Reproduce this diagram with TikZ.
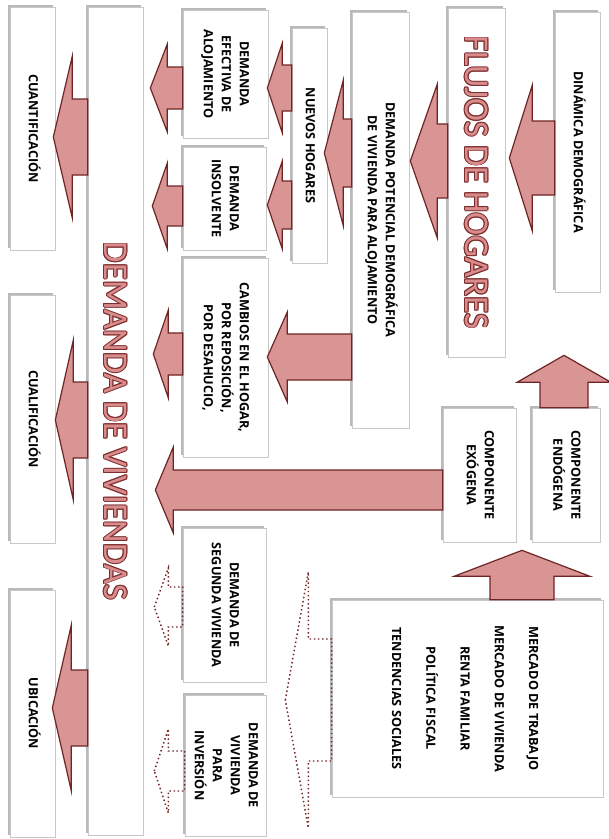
\documentclass[tikz,border=0pt]{standalone}
\usepackage{fontspec}
\setmainfont{Open Sans}
\newfontfamily\titlefont{Carlito}
\usetikzlibrary{calc,fit,shadows}
\definecolor{arrowfill}{RGB}{217,149,148}
\definecolor{arrowline}{RGB}{112,36,36}
\definecolor{titlefill}{RGB}{217,140,140}
\definecolor{titleline}{RGB}{125,45,45}
\definecolor{boxline}{RGB}{200,200,200}
\newlength{\pxu}
\setlength{\pxu}{0.75pt}
\tikzset{
  box/.style={
    draw=boxline,
    line width=0.5pt,
    fill=white,
    inner sep=0pt,
    drop shadow={shadow xshift=-1.5pt, shadow yshift=1.5pt, fill=black!50, opacity=0.55},
    font=\fontsize{9.5}{13.5}\selectfont\bfseries
  },
  listbox/.style={box, font=\fontsize{9.5}{25.7}\selectfont\bfseries},
  titlebox/.style={box, font=\fontsize{26}{30}\selectfont\titlefont},
  blockarrow/.style={draw=arrowline, fill=arrowfill, line width=0.9pt, line join=miter},
  dotarrow/.style={draw=arrowline, dotted, line width=1.1pt},
}
\newcommand{\VText}[1]{\rotatebox{-90}{\begin{tabular}{@{}c@{}}#1\end{tabular}}}
\newcommand{\OutlineCopy}[3]{\rlap{\kern#1\raisebox{#2}{\textcolor{titleline}{#3}}}}
\newcommand{\TitleText}[1]{\rotatebox{-90}{%
  \OutlineCopy{-0.7pt}{0pt}{#1}\OutlineCopy{0.7pt}{0pt}{#1}%
  \OutlineCopy{0pt}{0.7pt}{#1}\OutlineCopy{0pt}{-0.7pt}{#1}%
  \OutlineCopy{-0.5pt}{0.5pt}{#1}\OutlineCopy{0.5pt}{0.5pt}{#1}%
  \OutlineCopy{-0.5pt}{-0.5pt}{#1}\OutlineCopy{0.5pt}{-0.5pt}{#1}%
  \textcolor{titlefill}{#1}}}
% [style]{from}{to}{y}{gap}{head}{head half}{shaft half}
\newcommand{\ArrowLeft}[8][blockarrow]{%
  \draw[#1] let \p1=(#3.east), \p2=(#2.west), \p3=(0,#4),
    \n1={\x1+(#5)*\pxu}, \n2={\x1+(#5+#6)*\pxu} in
    (\n1, \y3)
    -- ({\n2}, {\y3+(#7)*\pxu})
    -- ({\n2}, {\y3+(#8)*\pxu})
    -- (\x2, {\y3+(#8)*\pxu})
    -- (\x2, {\y3-(#8)*\pxu})
    -- ({\n2}, {\y3-(#8)*\pxu})
    -- ({\n2}, {\y3-(#7)*\pxu})
    -- cycle;
}
% [style]{from}{to}{x}{gap}{head}{head half}{shaft half}
\newcommand{\ArrowUp}[8][blockarrow]{%
  \draw[#1] let \p1=(#3.south), \p2=(#2.north), \p3=(#4,0),
    \n1={\y1-(#5)*\pxu}, \n2={\y1-(#5+#6)*\pxu} in
    (\x3, \n1)
    -- ({\x3+(#7)*\pxu}, {\n2})
    -- ({\x3+(#8)*\pxu}, {\n2})
    -- ({\x3+(#8)*\pxu}, \y2)
    -- ({\x3-(#8)*\pxu}, \y2)
    -- ({\x3-(#8)*\pxu}, {\n2})
    -- ({\x3-(#7)*\pxu}, {\n2})
    -- cycle;
}
\begin{document}
\begin{tikzpicture}[x=0.75pt, y=-0.75pt]
  \useasboundingbox (0,0) rectangle (608,839);
  \node[box, fit={(10,7) (55,250)}] (cuant) {\VText{CUANTIFICACIÓN}};
  \node[box, fit={(10,295) (55,543)}] (cualif) {\VText{CUALIFICACIÓN}};
  \node[box, fit={(10,590) (55,837)}] (ubic) {\VText{UBICACIÓN}};
  \node[titlebox, fit={(88,7) (143,835)}] (demanda) {\TitleText{DEMANDA DE VIVIENDAS}};
  \node[box, fit={(183,10) (268,138)}] (efectiva) {\VText{DEMANDA\\EFECTIVA DE\\ALOJAMIENTO}};
  \node[box, fit={(183,147) (266,250)}] (insolvente) {\VText{DEMANDA\\INSOLVENTE}};
  \node[box, fit={(183,258) (268,457)}] (cambios) {\VText{CAMBIOS EN EL HOGAR,\\POR REPOSICIÓN,\\POR DESAHUCIO,}};
  \node[box, fit={(183,528) (266,682)}] (segunda) {\VText{DEMANDA DE\\SEGUNDA VIVIENDA}};
  \node[box, fit={(185,695) (266,836)}] (inversion) {\VText{DEMANDA DE\\VIVIENDA\\PARA\\INVERSIÓN}};
  \node[box, fit={(292,28) (327,263)}] (nuevos) {\VText{NUEVOS HOGARES}};
  \node[box, fit={(352,12) (409,428)}] (potencial) {\VText{DEMANDA POTENCIAL DEMOGRÁFICA\\DE VIVIENDA PARA ALOJAMIENTO}};
  \node[titlebox, fit={(448,8) (505,357)}] (flujos) {\TitleText{FLUJOS DE HOGARES}};
  \node[box, fit={(555,12) (600,292)}] (dinamica) {\VText{DINÁMICA DEMOGRÁFICA}};
  \node[box, fit={(443,408) (516,542)}] (exogena) {\VText{COMPONENTE\\EXÓGENA}};
  \node[box, fit={(532,408) (600,542)}] (endogena) {\VText{COMPONENTE\\ENDÓGENA}};
  \node[listbox, fit={(332,600) (603,797)}] (factores) {\VText{MERCADO DE TRABAJO\\MERCADO DE VIVIENDA\\RENTA FAMILIAR\\POLÍTICA FISCAL\\TENDENCIAS SOCIALES}};

  \ArrowLeft{demanda}{cuant}{137}{-2}{19}{81}{38}
  \ArrowLeft{demanda}{cualif}{420}{0}{18}{80}{38}
  \ArrowLeft{demanda}{ubic}{708}{-3}{19}{83}{38}
  \ArrowLeft{efectiva}{demanda}{88}{7}{17}{44}{21}
  \ArrowLeft{insolvente}{demanda}{206}{9}{15}{43}{20}
  \ArrowLeft{cambios}{demanda}{354}{10}{15}{44}{21}
  \ArrowLeft{nuevos}{efectiva}{88}{-1}{15}{45}{23}
  \ArrowLeft{nuevos}{insolvente}{205}{1}{15}{44}{24}
  \ArrowLeft{potencial}{nuevos}{153}{-3}{19}{73}{34}
  \ArrowLeft{flujos}{potencial}{161}{1}{27}{77}{37}
  \ArrowLeft{dinamica}{flujos}{158}{4}{23}{73}{37}
  \ArrowLeft{potencial}{cambios}{357}{-1}{20}{45}{23}
  \ArrowLeft{exogena}{demanda}{490}{12}{18}{43}{20}
  \ArrowLeft[dotarrow]{segunda}{demanda}{607}{11}{14}{39}{20}
  \ArrowLeft[dotarrow]{inversion}{demanda}{771}{11}{14}{42}{20}
  \ArrowLeft[dotarrow]{factores}{segunda}{700}{19}{23}{128}{61}
  \ArrowUp{endogena}{flujos}{564}{-2}{27}{47}{24}
  \ArrowUp{factores}{exogena}{522}{8}{26}{68}{32}
\end{tikzpicture}
\end{document}
